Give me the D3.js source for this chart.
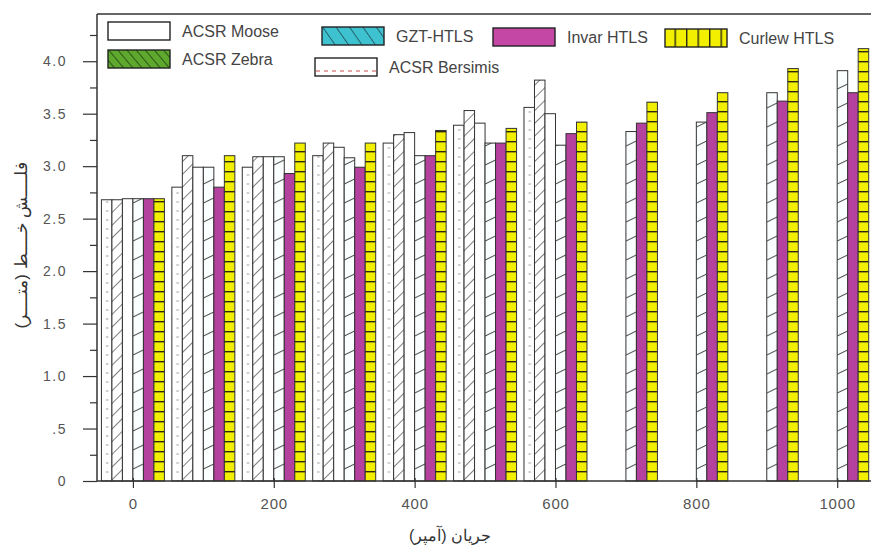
<!DOCTYPE html>
<html>
<head>
<meta charset="utf-8">
<script src="https://cdn.jsdelivr.net/npm/d3@7"></script>
<style>
  body { margin: 0; background: #fff; }
  svg { display: block; }
  text { font-family: "Liberation Sans", Arial, sans-serif; }
</style>
</head>
<body>
<svg id="chart" width="871" height="551"></svg>
<script>
// Current (A) at which each conductor was evaluated
const currents = [0, 100, 200, 300, 400, 500, 600, 700, 800, 900, 1000];

// Series order inside each group of bars
const seriesNames = ["ACSR Bersimis", "ACSR Zebra", "ACSR Moose", "GZT-HTLS", "Invar HTLS", "Curlew HTLS"];

// Sag values per conductor (null = not computed at that current)
const bersimis = [2.68, 2.80, 2.99, 3.10, 3.22, 3.39, 3.56, null, null, null, null];
const zebra    = [2.68, 3.10, 3.09, 3.22, 3.30, 3.53, 3.82, null, null, null, null];
const moose    = [2.69, 2.99, 3.09, 3.18, 3.32, 3.41, 3.50, null, null, null, null];
const gzt      = [2.69, 2.99, 3.09, 3.08, 3.10, 3.22, 3.20, 3.33, 3.42, 3.70, 3.91];
const invar    = [2.69, 2.80, 2.93, 2.99, 3.10, 3.22, 3.31, 3.41, 3.51, 3.62, 3.70];
const curlew   = [2.69, 3.10, 3.22, 3.22, 3.34, 3.36, 3.42, 3.61, 3.70, 3.93, 4.12];

// Axis ticks
const yTicks = [0, 0.5, 1.0, 1.5, 2.0, 2.5, 3.0, 3.5, 4.0];
const yTickLabels = ["0", ".5", "1.0", "1.5", "2.0", "2.5", "3.0", "3.5", "4.0"];
const yMinorTicks = [0.25, 0.75, 1.25, 1.75, 2.25, 2.75, 3.25, 3.75, 4.25];
const xTicks = [0, 200, 400, 600, 800, 1000];
const xTickLabels = ["0", "200", "400", "600", "800", "1000"];

const xTitle = "جریان (آمپر)";
const yTitle = "فلــــش خــــط (متــــر)";

const valuesByName = {
  "ACSR Bersimis": bersimis,
  "ACSR Zebra": zebra,
  "ACSR Moose": moose,
  "GZT-HTLS": gzt,
  "Invar HTLS": invar,
  "Curlew HTLS": curlew
};

// Fill used for bars and the fill used for legend swatches
const barFill = {
  "ACSR Bersimis": "url(#p-bers)",
  "ACSR Zebra": "url(#p-zebra-bar)",
  "ACSR Moose": "#ffffff",
  "GZT-HTLS": "url(#p-gzt-bar)",
  "Invar HTLS": "#b5419f",
  "Curlew HTLS": "url(#p-curlew-bar)"
};
const swatchFill = {
  "ACSR Bersimis": "url(#p-bers-key)",
  "ACSR Zebra": "url(#p-zebra-key)",
  "ACSR Moose": "#ffffff",
  "GZT-HTLS": "url(#p-gzt-key)",
  "Invar HTLS": "#c447a6",
  "Curlew HTLS": "url(#p-curlew-key)"
};

// Legend placement
const legendLayout = [
  { name: "ACSR Moose",    x: 108, y: 22 },
  { name: "GZT-HTLS",      x: 322, y: 27 },
  { name: "Invar HTLS",    x: 493, y: 28 },
  { name: "Curlew HTLS",   x: 665, y: 29 },
  { name: "ACSR Zebra",    x: 108, y: 50 },
  { name: "ACSR Bersimis", x: 315, y: 58 }
];

const svg = d3.select("#chart");
const plotLeft = 97, plotRight = 872, plotTop = 14, plotBottom = 481;

const x = d3.scaleLinear().domain([-51, 1048]).range([plotLeft, 871]);
const y = d3.scaleLinear().domain([0, 4.45]).range([plotBottom, plotTop]);
const inner = d3.scaleBand().domain(seriesNames).range([-31.5, 31.5]).padding(0);

// ---------- patterns ----------
const defs = svg.append("defs");

function pattern(id, w, h, opts = {}) {
  const p = defs.append("pattern").attr("id", id)
    .attr("patternUnits", "userSpaceOnUse")
    .attr("width", w).attr("height", h);
  if (opts.y != null) p.attr("y", opts.y);
  if (opts.transform) p.attr("patternTransform", opts.transform);
  p.append("rect").attr("width", w).attr("height", h).attr("fill", opts.bg || "#fff");
  return p;
}

// dotted white (Bersimis)
let pat = pattern("p-bers", 7, 9);
pat.append("line").attr("x1", 1).attr("x2", 3.5).attr("y1", 4).attr("y2", 4)
  .attr("stroke", "#9a9a9a").attr("stroke-width", 1);
pat = pattern("p-bers-key", 8, 18, { y: 58 });
pat.append("line").attr("x1", 1).attr("x2", 5).attr("y1", 9).attr("y2", 9)
  .attr("stroke", "#d46a6a").attr("stroke-width", 1.2);

// diagonal hatch (Zebra)
pat = pattern("p-zebra-bar", 9, 9, { transform: "rotate(45)" });
pat.append("line").attr("x1", 0).attr("x2", 0).attr("y1", 0).attr("y2", 9)
  .attr("stroke", "#3a3a3a").attr("stroke-width", 1.3);
pat = pattern("p-zebra-key", 7, 7, { bg: "#5ea82e", transform: "rotate(-40)" });
pat.append("line").attr("x1", 0).attr("x2", 0).attr("y1", 0).attr("y2", 7)
  .attr("stroke", "#1f4412").attr("stroke-width", 1.6);

// sparse slant (GZT)
pat = pattern("p-gzt-bar", 10.5, 19, { bg: "#fbfefe" });
pat.append("line").attr("x1", 0).attr("x2", 10.5).attr("y1", 13).attr("y2", 8)
  .attr("stroke", "#4a4a4a").attr("stroke-width", 1.1);
pat = pattern("p-gzt-key", 11, 11, { bg: "#3fc2cf", transform: "rotate(-35)" });
pat.append("line").attr("x1", 0).attr("x2", 0).attr("y1", 0).attr("y2", 11)
  .attr("stroke", "#1b4b55").attr("stroke-width", 1.6);

// yellow cells (Curlew)
pat = pattern("p-curlew-bar", 12, 10, { bg: "#f2f000", y: 1 });
pat.append("line").attr("x1", 0).attr("x2", 12).attr("y1", 0.5).attr("y2", 0.5)
  .attr("stroke", "#2a2a10").attr("stroke-width", 1.8);
pat = pattern("p-curlew-key", 11.5, 20, { bg: "#f2f000", transform: "translate(665,0)" });
pat.append("line").attr("x1", 0.5).attr("x2", 0.5).attr("y1", 0).attr("y2", 20)
  .attr("stroke", "#2a2a10").attr("stroke-width", 1.8);

// ---------- bars ----------
const groups = svg.append("g").attr("class", "bars")
  .selectAll("g").data(currents).join("g")
  .attr("transform", c => `translate(${x(c)},0)`);

groups.selectAll("rect")
  .data((c, i) => seriesNames
    .map(name => ({ name, v: valuesByName[name][i] }))
    .filter(d => d.v != null))
  .join("rect")
  .attr("x", d => inner(d.name))
  .attr("width", inner.bandwidth())
  .attr("y", d => y(d.v))
  .attr("height", d => y(0) - y(d.v))
  .attr("fill", d => barFill[d.name])
  .attr("stroke", "#333")
  .attr("stroke-width", 1);

// ---------- axes ----------
const axisColor = "#333";

const yAxis = svg.append("g").attr("transform", `translate(${plotLeft},0)`)
  .call(d3.axisLeft(y).tickValues(yTicks).tickSize(14).tickPadding(16)
    .tickFormat((d, i) => yTickLabels[i]));
const yMinor = svg.append("g").attr("transform", `translate(${plotLeft},0)`)
  .call(d3.axisLeft(y).tickValues(yMinorTicks).tickSize(7).tickFormat(""));

const xAxis = svg.append("g").attr("transform", `translate(0,${plotBottom})`)
  .call(d3.axisBottom(x).tickValues(xTicks).tickSize(7).tickPadding(10)
    .tickFormat((d, i) => xTickLabels[i]));

[yAxis, yMinor, xAxis].forEach(g => {
  g.select(".domain").remove();
  g.selectAll(".tick line").attr("stroke", axisColor).attr("stroke-width", 1.2);
});
yAxis.selectAll(".tick text")
  .attr("font-size", 14).attr("fill", "#555").attr("letter-spacing", 1.5)
  .attr("font-family", "Liberation Sans, Arial, sans-serif");
xAxis.selectAll(".tick text")
  .attr("font-size", 15).attr("fill", "#555").attr("letter-spacing", 0.8)
  .attr("font-family", "Liberation Sans, Arial, sans-serif");
xAxis.selectAll(".tick line").attr("y1", -3);

// frame lines
const frame = svg.append("g").attr("stroke", axisColor).attr("stroke-width", 1.5).attr("fill", "none");
frame.append("line").attr("x1", plotLeft).attr("x2", plotRight).attr("y1", plotTop).attr("y2", plotTop);
frame.append("line").attr("x1", plotLeft).attr("x2", plotLeft).attr("y1", plotTop).attr("y2", plotBottom);
frame.append("line").attr("x1", plotLeft).attr("x2", plotRight).attr("y1", plotBottom).attr("y2", plotBottom);

// ---------- legend ----------
const legend = svg.append("g").attr("class", "legend")
  .selectAll("g").data(legendLayout).join("g")
  .attr("transform", d => `translate(${d.x},${d.y})`);
legend.append("rect")
  .attr("width", 62).attr("height", 18)
  .attr("fill", d => swatchFill[d.name])
  .attr("stroke", "#222").attr("stroke-width", 1.4);
legend.append("text")
  .attr("x", 74).attr("y", 9).attr("dy", "0.36em")
  .attr("font-size", 16).attr("fill", "#444")
  .text(d => d.name);

// ---------- titles ----------
svg.append("text")
  .attr("x", 450).attr("y", 541)
  .attr("text-anchor", "middle")
  .attr("direction", "rtl")
  .attr("font-family", "DejaVu Sans, sans-serif")
  .attr("font-size", 16).attr("fill", "#333")
  .text(xTitle);

svg.append("text")
  .attr("transform", "translate(27,245) rotate(-90)")
  .attr("text-anchor", "middle")
  .attr("direction", "rtl")
  .attr("font-family", "DejaVu Sans, sans-serif")
  .attr("font-size", 17).attr("fill", "#333")
  .text(yTitle);
</script>
</body>
</html>
